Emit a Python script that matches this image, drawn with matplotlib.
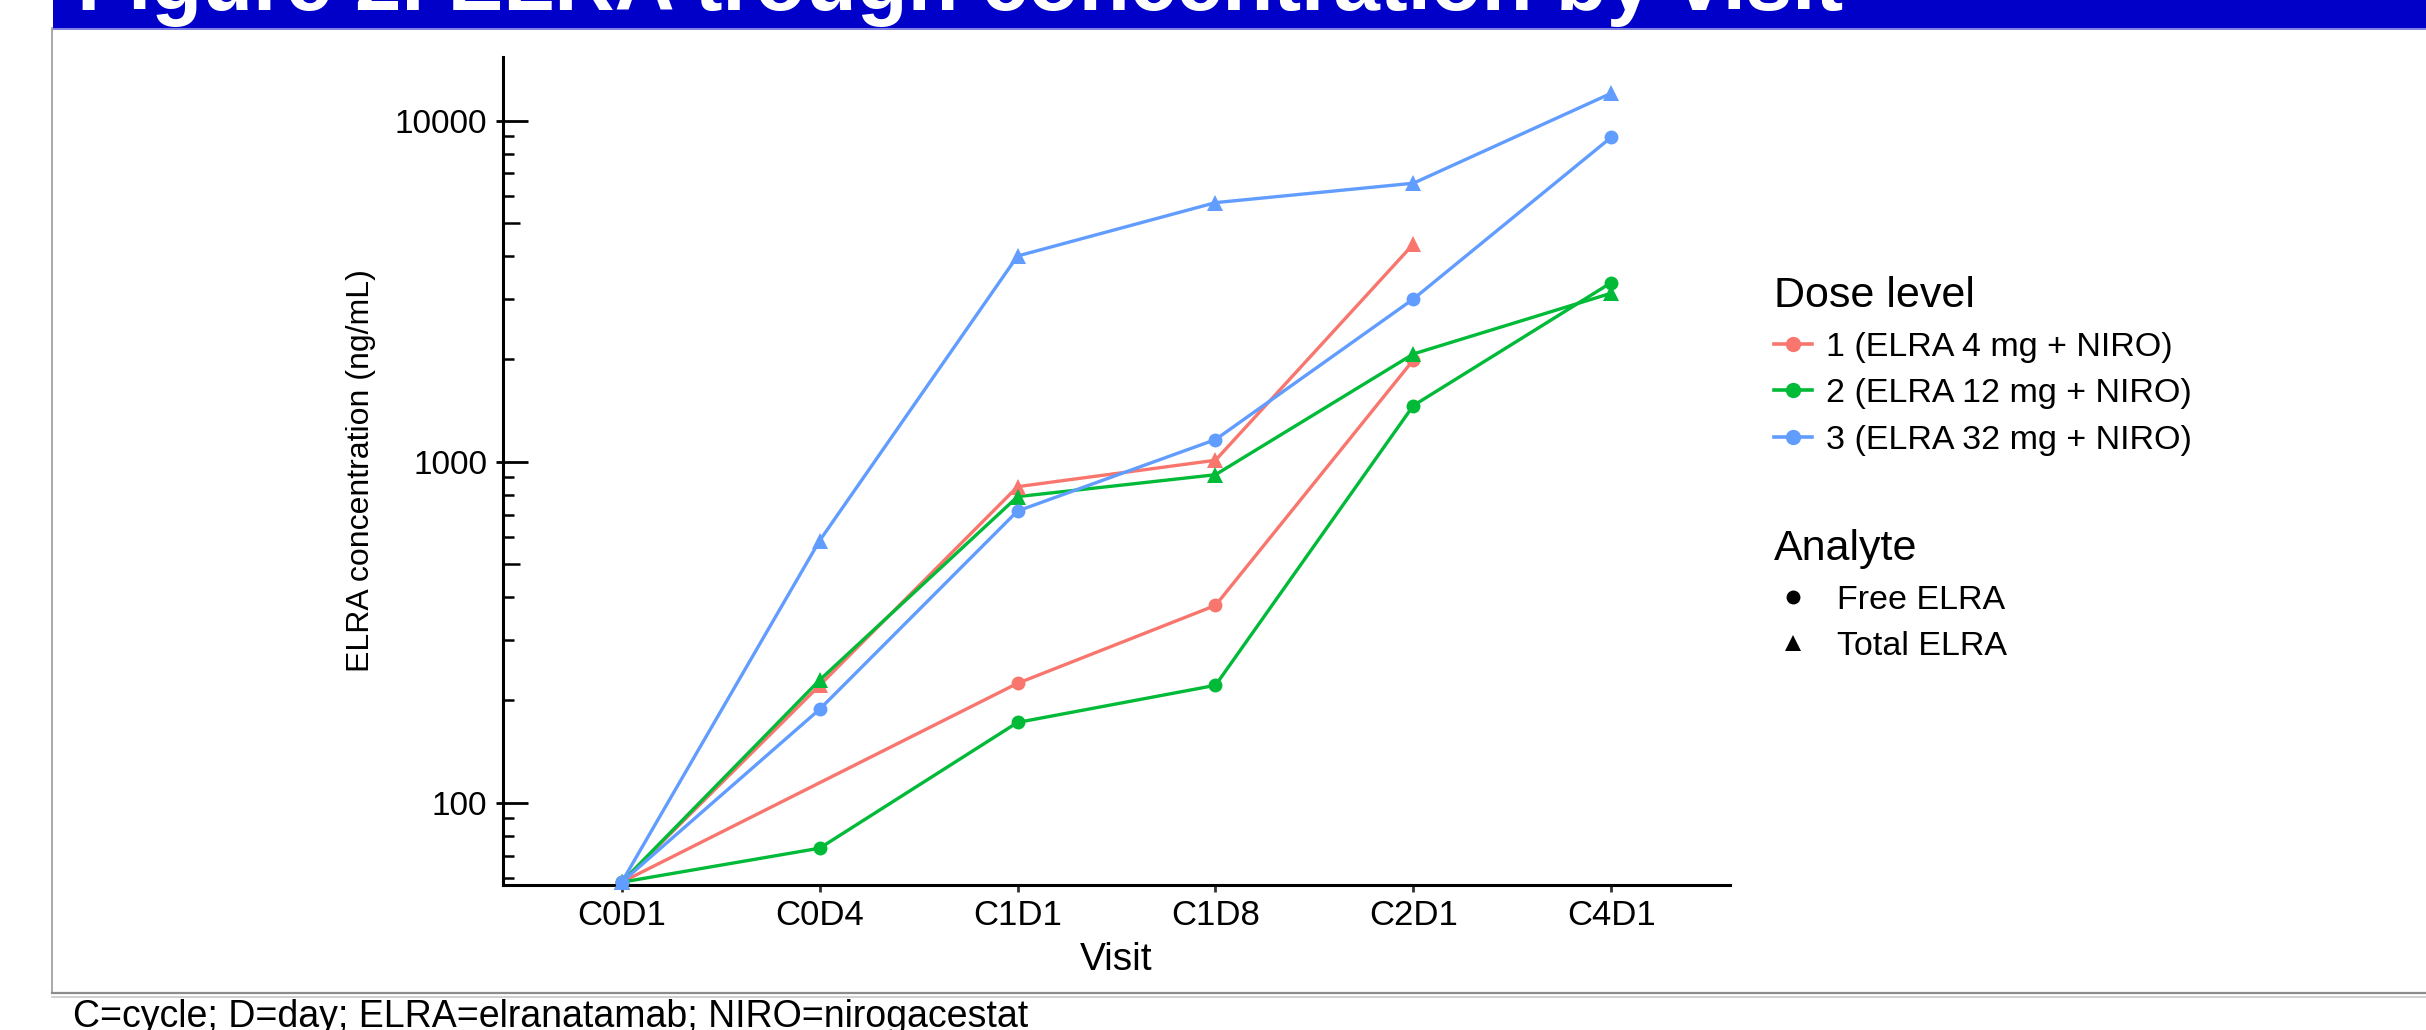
import numpy as np
import matplotlib
matplotlib.use("Agg")
import matplotlib.pyplot as plt
from matplotlib.lines import Line2D
from matplotlib.patches import Rectangle

plt.rcParams["font.family"] = ["Liberation Sans", "DejaVu Sans"]

visits = ["C0D1", "C0D4", "C1D1", "C1D8", "C2D1", "C4D1"]
dose_labels = ["1 (ELRA 4 mg + NIRO)", "2 (ELRA 12 mg + NIRO)", "3 (ELRA 32 mg + NIRO)"]
dose_colors = ["#F8766D", "#00BA38", "#619CFF"]
analytes = ["Free ELRA", "Total ELRA"]
analyte_markers = ["o", "^"]

nan = np.nan
# median trough concentration (ng/mL) per visit; nan = no sample at that visit
free_dose1 = [58.5, nan, 224, 379, 1988, nan]
total_dose1 = [58.5, 221, 845, 1010, 4345, nan]
free_dose2 = [58.5, 73.6, 172, 221, 1461, 3350]
total_dose2 = [58.5, 229, 790, 916, 2070, 3120]
free_dose3 = [58.5, 188, 717, 1161, 3000, 8940]
total_dose3 = [58.5, 587, 4010, 5750, 6555, 12030]

groups = [
    (0, 0, free_dose1), (0, 1, total_dose1),
    (1, 0, free_dose2), (1, 1, total_dose2),
    (2, 0, free_dose3), (2, 1, total_dose3),
]

W, H = 2426, 1030
fig = plt.figure(figsize=(W / 100, H / 100), dpi=100)
fig.patch.set_facecolor("white")

# poster header bar and panel frame
banner = Rectangle((52.5 / W, 1 - 28 / H), 1, 28 / H, transform=fig.transFigure,
                   facecolor="#0000C8", edgecolor="none")
fig.patches.append(banner)
fig.add_artist(Line2D([52.5 / W, 1], [1 - 28.5 / H] * 2, color="#6A6AE0", lw=1.2))
fig.add_artist(Line2D([52 / W] * 2, [1 - 28 / H, 1 - 993 / H], color="#9A9A9A", lw=1.2))
fig.add_artist(Line2D([52 / W, 1], [1 - 993 / H] * 2, color="#8C8C8C", lw=1.6))
fig.add_artist(Line2D([52 / W, 1], [1 - 996.5 / H] * 2, color="#C8C8C8", lw=1.2))

title = fig.text(77 / W, 1 - 10 / H, "Figure 2. ELRA trough concentration by visit",
                 color="white", fontsize=60, fontweight="bold", va="baseline", ha="left")
title.set_clip_path(banner)

fig.text(73 / W, 3 / H, "C=cycle; D=day; ELRA=elranatamab; NIRO=nirogacestat",
         fontsize=27, va="baseline", ha="left", color="black")

ax = fig.add_axes([503 / W, 1 - 885 / H, (1730 - 503) / W, (885 - 57) / H])
ax.set_yscale("log")
ax.set_ylim(57.4, 15370)
ax.set_xlim(-0.6, 5.6)

x = np.arange(len(visits))
# lines first, then points on top (one group per dose x analyte)
for dose, an, vals in groups:
    v = np.array(vals, dtype=float)
    ok = ~np.isnan(v)
    ax.plot(x[ok], v[ok], color=dose_colors[dose], lw=2.4, zorder=2,
            solid_capstyle="round")
for dose, an, vals in groups:
    v = np.array(vals, dtype=float)
    ok = ~np.isnan(v)
    ax.plot(x[ok], v[ok], ls="none", marker=analyte_markers[an],
            ms=10 if an == 0 else 12, mew=0, color=dose_colors[dose], zorder=3,
            clip_on=False)

for side in ["top", "right"]:
    ax.spines[side].set_visible(False)
for side in ["left", "bottom"]:
    ax.spines[side].set_linewidth(2.2)
    ax.spines[side].set_color("black")

ax.set_xticks(x, visits)
ax.tick_params(axis="x", length=5, width=2, labelsize=25, pad=5, color="#333333")

decades = [100, 1000, 10000]
ax.set_yticks(decades, [str(d) for d in decades])
small = [m * d for d in [10, 100, 1000] for m in [2, 3, 4, 6, 7, 8, 9]]
ax.set_yticks([t for t in small if 57.4 <= t <= 15370], minor=True)
ax.tick_params(axis="y", which="major", direction="out", length=5, width=2,
               labelsize=24, pad=6.5)
ax.tick_params(axis="y", which="minor", direction="in", length=8, width=1.8)

# long log ticks inside the panel (decades and fives)
logticks = ax.secondary_yaxis("left")
logticks.spines["left"].set_visible(False)
logticks.set_yticks(decades)
logticks.set_yticks([500, 5000], minor=True)
logticks.tick_params(which="major", direction="in", length=18, width=2, labelleft=False)
logticks.tick_params(which="minor", direction="in", length=12, width=1.8, labelleft=False)

ax.set_xlabel("Visit", fontsize=28, labelpad=7)
ax.set_ylabel("ELRA concentration (ng/mL)", fontsize=23, labelpad=13)

dose_handles = [Line2D([], [], color=c, lw=2.6, marker="o", ms=11, mew=0)
                for c in dose_colors]
fig.legend(dose_handles, dose_labels, title="Dose level", loc="upper left",
           bbox_to_anchor=(1774 / W, 1 - 276 / H), frameon=False, fontsize=24.5,
           title_fontsize=31, handlelength=1.12, handletextpad=0.4,
           labelspacing=0.46, borderpad=0, borderaxespad=0, alignment="left")

analyte_handles = [Line2D([], [], ls="none", color="black", marker=m,
                          ms=10 if m == "o" else 12, mew=0) for m in analyte_markers]
fig.legend(analyte_handles, analytes, title="Analyte", loc="upper left",
           bbox_to_anchor=(1774 / W, 1 - 529 / H), frameon=False, fontsize=24.5,
           title_fontsize=31, handlelength=1.12, handletextpad=0.72,
           labelspacing=0.46, borderpad=0, borderaxespad=0, alignment="left")

fig.savefig("out.png", dpi=100, facecolor="white")
